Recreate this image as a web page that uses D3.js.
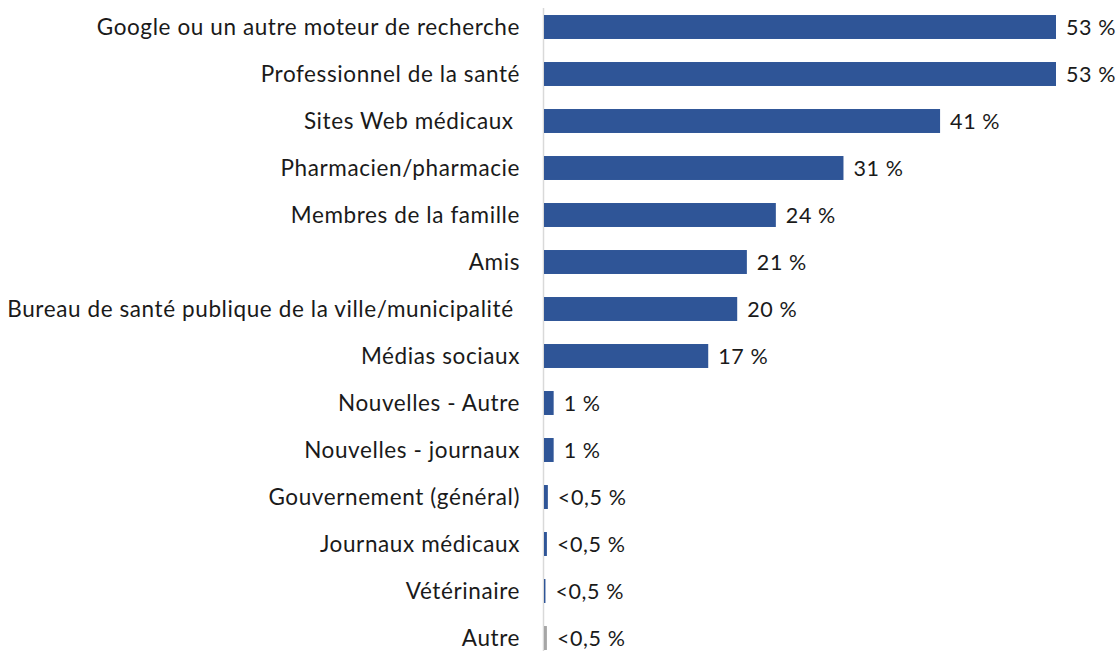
<!DOCTYPE html>
<html><head><meta charset="utf-8">
<script src="https://cdn.jsdelivr.net/npm/d3@7"></script>
<style>
html,body{margin:0;padding:0;background:#fff;}
svg text{white-space:pre;}
</style></head>
<body>
<svg id="chart" width="1117" height="651"></svg>
<script>
const categories = [
  "Google ou un autre moteur de recherche",
  "Professionnel de la santé",
  "Sites Web médicaux ",
  "Pharmacien/pharmacie",
  "Membres de la famille",
  "Amis",
  "Bureau de santé publique de la ville/municipalité ",
  "Médias sociaux",
  "Nouvelles - Autre",
  "Nouvelles - journaux",
  "Gouvernement (général)",
  "Journaux médicaux",
  "Vétérinaire",
  "Autre"
];
const values = [53, 53, 41, 31, 24, 21, 20, 17, 1, 1, 0.4, 0.3, 0.15, 0.3];
const valueLabels = ["53 %", "53 %", "41 %", "31 %", "24 %", "21 %", "20 %", "17 %", "1 %", "1 %", "<0,5 %", "<0,5 %", "<0,5 %", "<0,5 %"];
const barColors = ["#2F5597","#2F5597","#2F5597","#2F5597","#2F5597","#2F5597","#2F5597","#2F5597","#2F5597","#2F5597","#2F5597","#2F5597","#2F5597","#A6A6A6"];

const svg = d3.select("#chart");
const x0 = 544;
const x = d3.scaleLinear().domain([0, 53]).range([x0, 1056]);
const y = d3.scaleBand().domain(categories).range([3.5, 661.5]).paddingInner(0.49).paddingOuter(0.245);

const font = "Lato, 'Open Sans', sans-serif";

svg.append("line")
  .attr("x1", x0 - 0.5).attr("x2", x0 - 0.5)
  .attr("y1", 8).attr("y2", 651)
  .attr("stroke", "#D9D9D9").attr("stroke-width", 1.5);

svg.selectAll("rect.bar").data(categories).join("rect")
  .attr("class", "bar")
  .attr("x", x(0))
  .attr("y", d => y(d))
  .attr("width", (d, i) => x(values[i]) - x(0))
  .attr("height", y.bandwidth())
  .attr("fill", (d, i) => barColors[i]);

svg.selectAll("text.cat").data(categories).join("text")
  .attr("class", "cat")
  .attr("x", 520)
  .attr("y", d => y(d) + y.bandwidth() / 2)
  .attr("dy", "0.35em")
  .attr("text-anchor", "end")
  .attr("font-family", font)
  .attr("font-size", 22.5)
  .attr("letter-spacing", "0.6px")
  .attr("fill", "#1a1a1a")
  .text(d => d);

svg.selectAll("text.val").data(categories).join("text")
  .attr("class", "val")
  .attr("x", (d, i) => x(values[i]) + 10)
  .attr("y", d => y(d) + y.bandwidth() / 2)
  .attr("dy", "0.35em")
  .attr("font-family", font)
  .attr("font-size", 21.5)
  .attr("letter-spacing", "0.6px")
  .attr("fill", "#1a1a1a")
  .text((d, i) => valueLabels[i]);
</script>
</body></html>
